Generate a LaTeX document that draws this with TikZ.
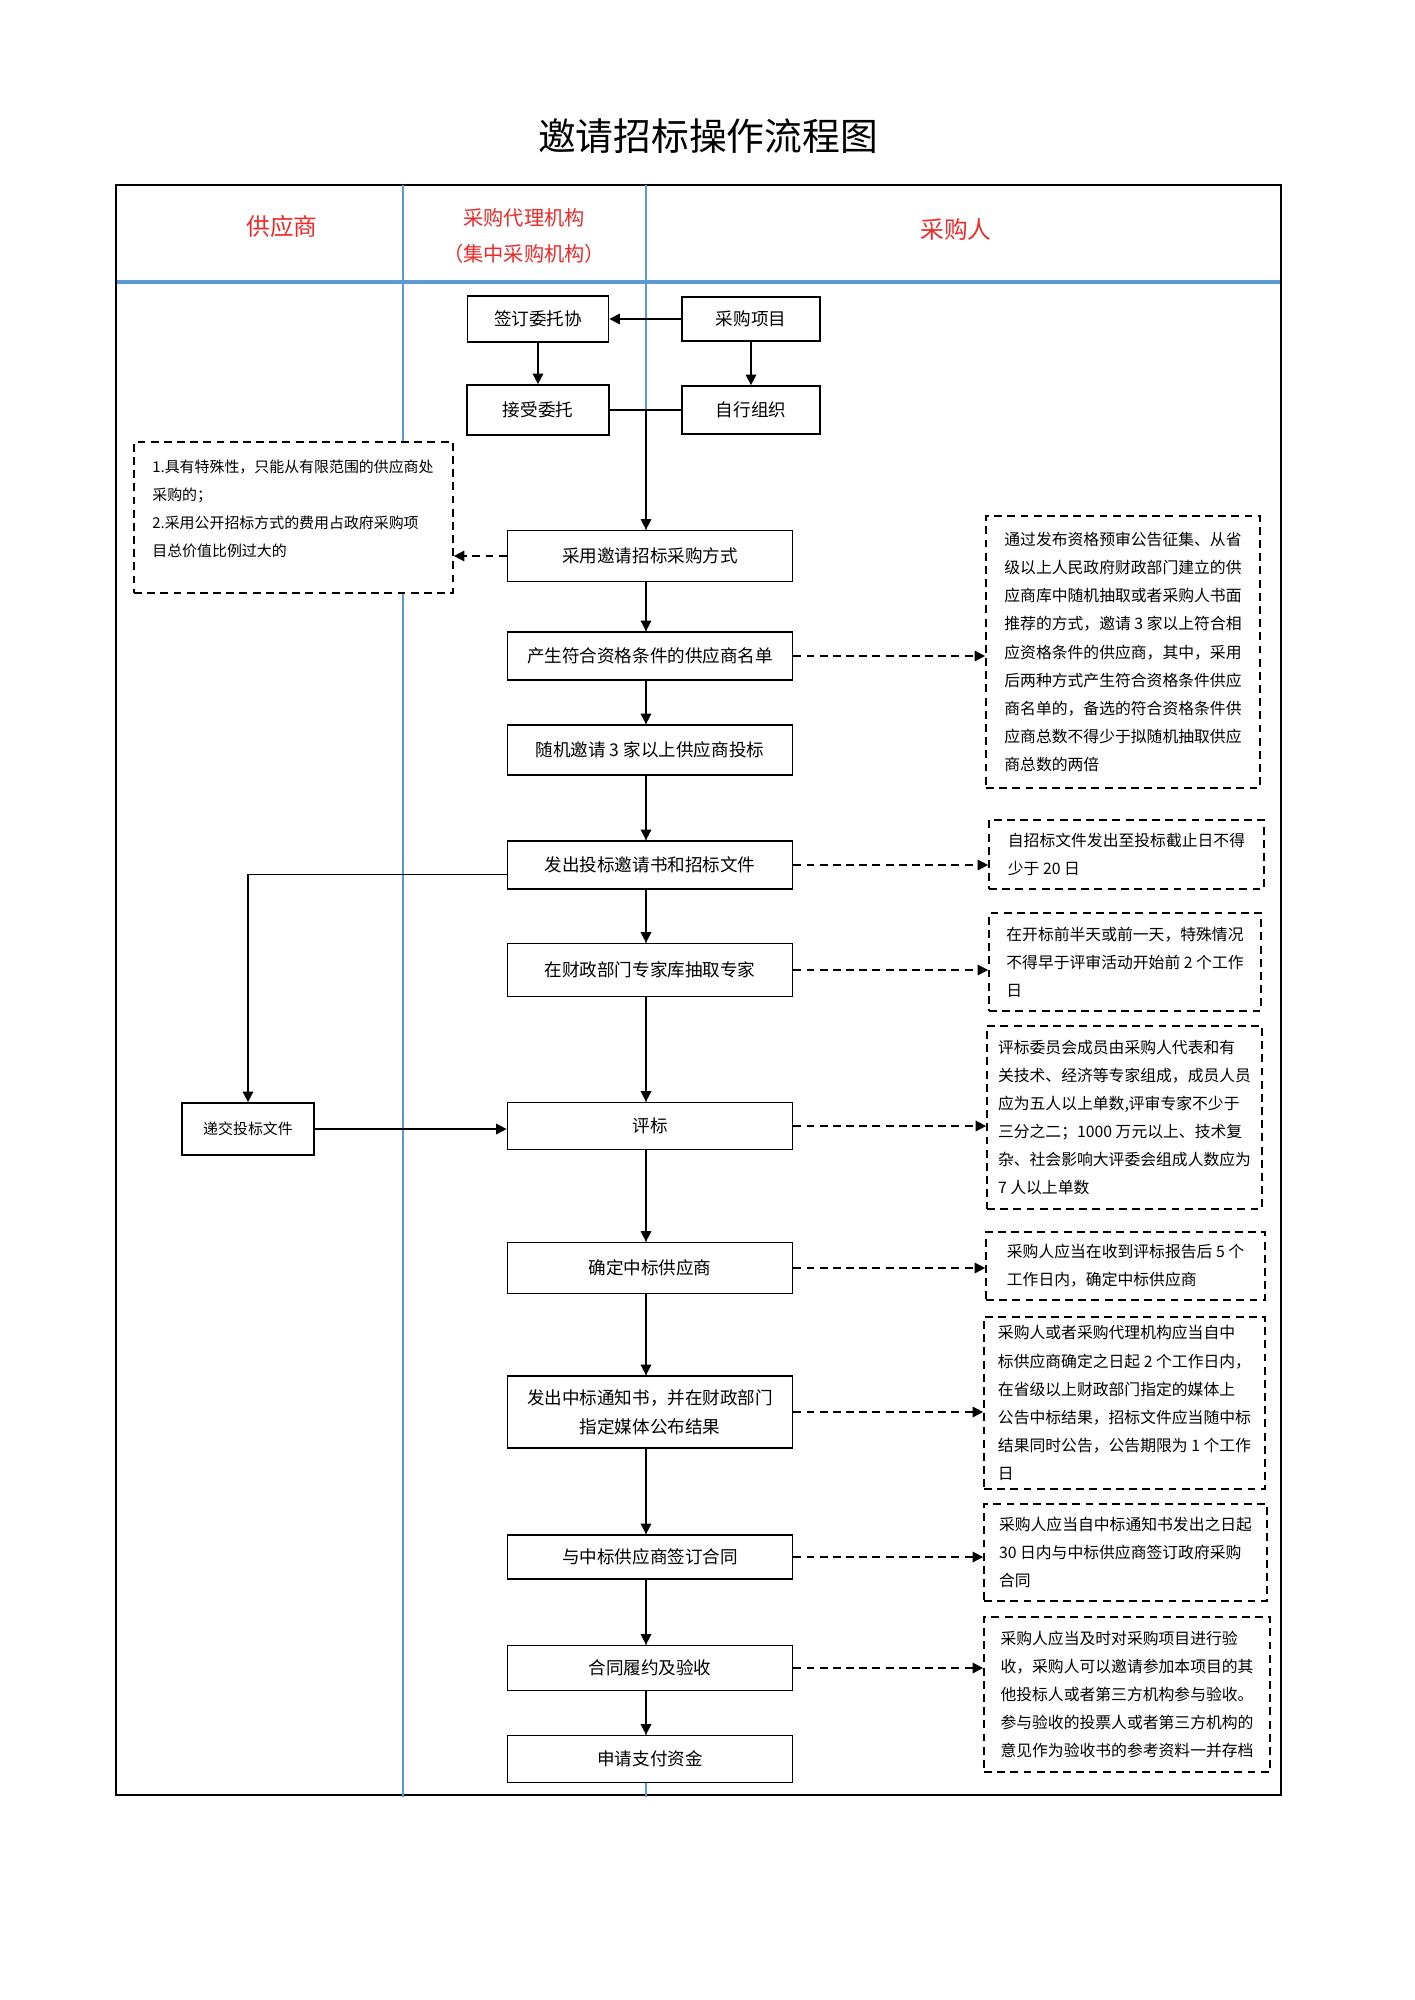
\documentclass[tikz,border=0pt]{standalone}
\usepackage{fontspec}
\setmainfont{Noto Sans CJK SC}
\usetikzlibrary{arrows.meta, positioning, calc}
\definecolor{cLane}{HTML}{5B9BD5}
\definecolor{cHead}{HTML}{F02828}
\tikzset{
  flownode/.style={
    draw=black, fill=white, line width=1pt,
    minimum width=5.7cm, minimum height=1cm,
    font=\fontsize{10}{16.5}\selectfont, align=center,
  },
  notebox/.style={
    draw=black, fill=white, line width=1pt,
    dash pattern=on 4.5pt off 3pt,
    font=\fontsize{9}{16}\selectfont, align=left, inner sep=0pt,
  },
  lanehead/.style={font=\fontsize{13.5}{16}\selectfont, text=cHead, align=center},
  arw/.style={-{Triangle[length=6pt, width=6pt]}, line width=0.9pt},
  darw/.style={arw, dash pattern=on 4.5pt off 3pt},
}

\begin{document}
\begin{tikzpicture}[x=0.02cm, y=-0.02cm]
  \useasboundingbox (0,0) rectangle (1414,2000);

  % Title and frame
  \node[font=\fontsize{21.5}{24}\selectfont] (title) at (708,136) {邀请招标操作流程图};
  \draw[line width=1.3pt] (116,185) rectangle (1281,1795);

  % Swimlanes
  \foreach \x in {403,646} {
    \draw[cLane, line width=0.8pt] (\x,185) -- (\x,1797);
  }
  \coordinate (spine) at (646,0);
  \draw[cLane, line width=1.8pt] (117,282) -- (1280,282);
  \node[lanehead] (hsup) at (282,226) {供应商};
  \node[lanehead, font=\fontsize{11.5}{21}\selectfont] (hagent) at (524,236) {采购代理机构\\（集中采购机构）};
  \node[lanehead] (hbuyer) at (956,230) {采购人};

  % Start
  \node[flownode, minimum width=2.82cm, minimum height=0.92cm] (sign) at (538,319) {签订委托协};
  \node[flownode, minimum width=2.76cm, minimum height=0.88cm] (proj) at (751,319) {采购项目};
  \node[flownode, minimum width=2.84cm] (accept) at (538,410) {接受委托};
  \node[flownode, minimum width=2.76cm, minimum height=0.96cm] (self) at (751,410) {自行组织};

  % Main flow
  \node[flownode, minimum height=1.02cm] (mode) at (650,556) {采用邀请招标采购方式};
  \node[flownode, minimum height=0.96cm] (list) at (650,656) {产生符合资格条件的供应商名单};
  \node[flownode] (invite) at (650,750) {随机邀请 3 家以上供应商投标};
  \node[flownode, minimum height=0.96cm] (issue) at (650,865) {发出投标邀请书和招标文件};
  \node[flownode, minimum height=1.06cm] (expert) at (650,970) {在财政部门专家库抽取专家};
  \node[flownode, minimum height=0.94cm] (eval) at (650,1126) {评标};
  \node[flownode, minimum height=1.02cm] (award) at (650,1268) {确定中标供应商};
  \node[flownode, minimum height=1.44cm] (notice) at (650,1412) {发出中标通知书，并在财政部门\\指定媒体公布结果};
  \node[flownode, minimum height=0.88cm] (contract) at (650,1557) {与中标供应商签订合同};
  \node[flownode, minimum height=0.9cm] (check) at (650,1668) {合同履约及验收};
  \node[flownode, minimum height=0.94cm] (pay) at (650,1759) {申请支付资金};

  % Supplier
  \node[flownode, minimum width=2.64cm, minimum height=1.04cm,
        font=\fontsize{8.5}{10}\selectfont] (submit) at (248,1129) {递交投标文件};

  % Conditions
  \node[notebox, minimum width=6.38cm, minimum height=3.02cm] (side) at (293.5,517.5) {};
  \node[anchor=north west, font=\fontsize{8.5}{16}\selectfont, align=left, inner sep=0pt]
    (sidetxt) at (152,459) {1.具有特殊性，只能从有限范围的供应商处\\采购的；\\2.采用公开招标方式的费用占政府采购项\\目总价值比例过大的};

  % Notes
  \node[notebox, minimum width=5.48cm, minimum height=5.44cm] (n1) at (1123,652)
    {通过发布资格预审公告征集、从省\\级以上人民政府财政部门建立的供\\应商库中随机抽取或者采购人书面\\推荐的方式，邀请 3 家以上符合相\\应资格条件的供应商，其中，采用\\后两种方式产生符合资格条件供应\\商名单的，备选的符合资格条件供\\应商总数不得少于拟随机抽取供应\\商总数的两倍};
  \node[notebox, minimum width=5.5cm, minimum height=1.38cm] (n2) at (1126.5,854.5)
    {自招标文件发出至投标截止日不得\\少于 20 日};
  \node[notebox, minimum width=5.44cm, minimum height=1.96cm] (n3) at (1125,962)
    {在开标前半天或前一天，特殊情况\\不得早于评审活动开始前 2 个工作\\日};
  \node[notebox, minimum width=5.5cm, minimum height=3.66cm] (n4) at (1124.5,1117.5)
    {评标委员会成员由采购人代表和有\\关技术、经济等专家组成，成员人员\\应为五人以上单数,评审专家不少于\\三分之二；1000 万元以上、技术复\\杂、社会影响大评委会组成人数应为\\7 人以上单数};
  \node[notebox, minimum width=5.58cm, minimum height=1.36cm] (n5) at (1125.5,1266)
    {采购人应当在收到评标报告后 5 个\\工作日内，确定中标供应商};
  \node[notebox, minimum width=5.62cm, minimum height=3.44cm] (n6) at (1124.5,1403)
    {采购人或者采购代理机构应当自中\\标供应商确定之日起 2 个工作日内，\\在省级以上财政部门指定的媒体上\\公告中标结果，招标文件应当随中标\\结果同时公告，公告期限为 1 个工作\\日};
  \node[notebox, minimum width=5.66cm, minimum height=1.94cm] (n7) at (1125.5,1552.5)
    {采购人应当自中标通知书发出之日起\\30 日内与中标供应商签订政府采购\\合同};
  \node[notebox, minimum width=5.72cm, minimum height=3.1cm] (n8) at (1127,1694.5)
    {采购人应当及时对采购项目进行验\\收，采购人可以邀请参加本项目的其\\他投标人或者第三方机构参与验收。\\参与验收的投票人或者第三方机构的\\意见作为验收书的参考资料一并存档};

  % Connectors
  \draw[arw] (proj.west) -- (proj.west -| sign.east);
  \draw[arw] (sign) -- (accept);
  \draw[arw] (proj) -- (self);
  \draw[line width=0.9pt] (accept.east) -- (self.west);
  \coordinate (join) at (accept.east -| spine);
  \draw[arw] (join) -- (join |- mode.north);
  \draw[darw] (mode.west) -- (mode.west -| side.east);

  \foreach \a/\b in {mode/list, list/invite, invite/issue, issue/expert, expert/eval,
                     eval/award, award/notice, notice/contract, contract/check, check/pay} {
    \draw[arw] (\a.south -| spine) -- (\b.north -| spine);
  }
  \foreach \a/\b in {list/n1, issue/n2, expert/n3, eval/n4,
                     award/n5, notice/n6, contract/n7, check/n8} {
    \draw[darw] (\a.east) -- (\a.east -| \b.west);
  }

  \draw[arw] ([yshift=-0.19cm]issue.west) -| (submit.north);
  \draw[arw] (submit.east) -- (submit.east -| eval.west);
\end{tikzpicture}
\end{document}
